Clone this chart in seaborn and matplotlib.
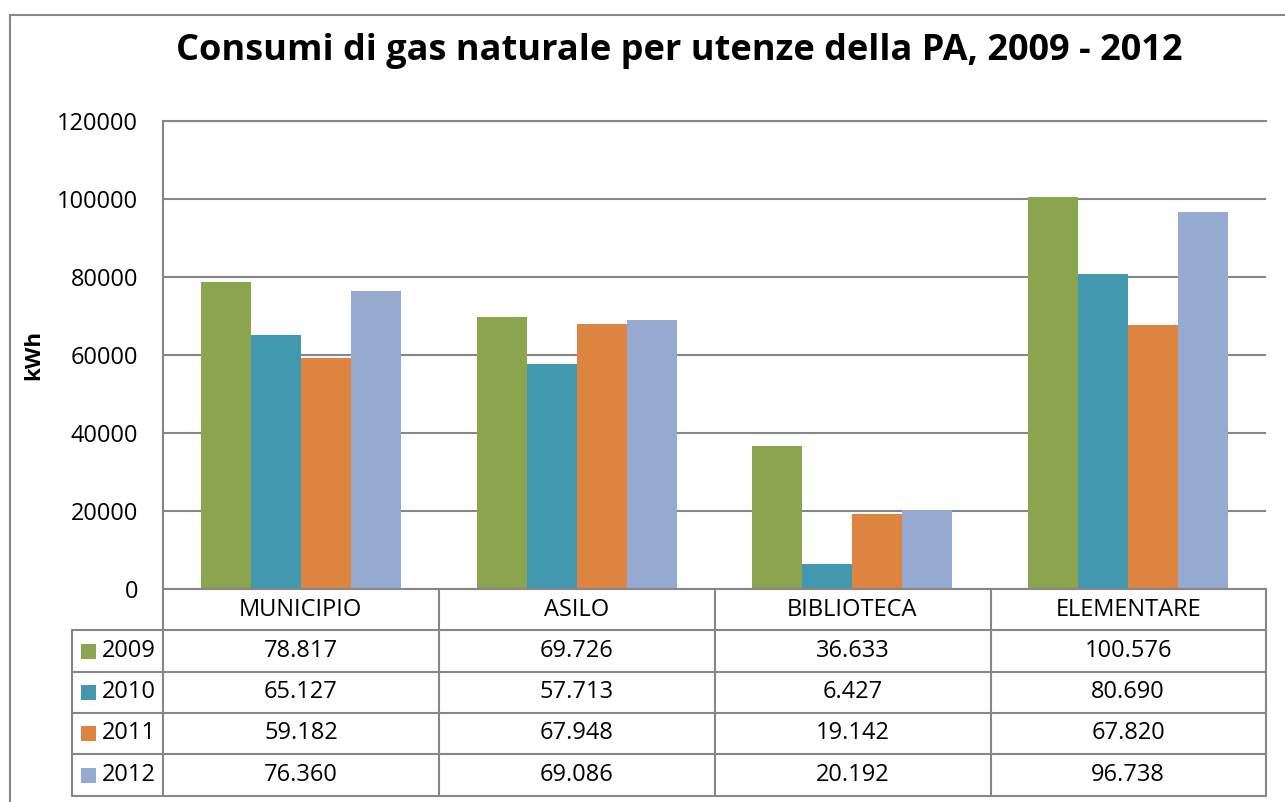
import numpy as np
import pandas as pd
import matplotlib
matplotlib.use("Agg")
import matplotlib.pyplot as plt
import matplotlib.transforms as mtransforms
from matplotlib.lines import Line2D
from matplotlib.patches import Rectangle
import seaborn as sns

categories = ["MUNICIPIO", "ASILO", "BIBLIOTECA", "ELEMENTARE"]
years = ["2009", "2010", "2011", "2012"]
v2009 = [78817, 69726, 36633, 100576]
v2010 = [65127, 57713, 6427, 80690]
v2011 = [59182, 67948, 19142, 67820]
v2012 = [76360, 69086, 20192, 96738]
colors = ["#8AA54D", "#4198AF", "#DD8440", "#95A9D1"]
yticks = [0, 20000, 40000, 60000, 80000, 100000, 120000]
title = "Consumi di gas naturale per utenze della PA, 2009 - 2012"
ylabel = "kWh"

series = {"2009": v2009, "2010": v2010, "2011": v2011, "2012": v2012}
rows = []
for y in years:
    for c, v in zip(categories, series[y]):
        rows.append({"cat": c, "year": y, "val": v})
df = pd.DataFrame(rows)

sns.set_theme(style="white")
plt.rcParams['font.family'] = ['Open Sans', 'DejaVu Sans']
plt.rcParams['text.color'] = 'black'

W, H = 1285, 802
fig = plt.figure(figsize=(12.85, 8.02), dpi=100)
fig.patch.set_facecolor("white")

def fx(px):
    return px / W

def fy(py):
    return 1 - py / H

L, R, T, B = 163, 1266, 121, 589
ax = fig.add_axes([fx(L), fy(B), fx(R) - fx(L), fy(T) - fy(B)])
sns.barplot(data=df, x="cat", y="val", hue="year", order=categories,
            hue_order=years, palette=colors, width=0.725, linewidth=0,
            saturation=1, ax=ax, legend=False, errorbar=None)
ax.set_xlim(-0.5, 3.5)
ax.set_ylim(0, 120000)
ax.set_yticks(yticks)
ax.set_yticklabels([str(t) for t in yticks])
ax.yaxis.grid(True, color="#868686", lw=1.5)
ax.set_axisbelow(True)
ax.set_xticks([])
ax.set_xlabel("")
ax.spines["right"].set_visible(False)
for s in ["left", "top", "bottom"]:
    ax.spines[s].set_color("#868686")
    ax.spines[s].set_linewidth(1.5)
fs = 17
ax.tick_params(axis="y", length=0, pad=18, labelsize=fs, labelcolor="black")
ax.set_ylabel(ylabel, fontsize=16, fontweight="bold", color="black")
ax.yaxis.set_label_coords((44 - L) / (R - L), 0.5)

gc = "#868686"
lw = 1.5
# outer chart frame
fig.add_artist(Line2D([fx(10), fx(10)], [fy(15), fy(802)], color=gc, lw=lw))
fig.add_artist(Line2D([fx(10), fx(1285)], [fy(15), fy(15)], color=gc, lw=lw))

# table lines
row_edges = [630, 672, 713, 754, 796]
col_edges = [163, 439, 715, 991, 1266]
for ry in row_edges:
    fig.add_artist(Line2D([fx(72), fx(R)], [fy(ry), fy(ry)], color=gc, lw=lw))
for cx in col_edges:
    fig.add_artist(Line2D([fx(cx), fx(cx)], [fy(B), fy(796)], color=gc, lw=lw))
fig.add_artist(Line2D([fx(72), fx(72)], [fy(630), fy(796)], color=gc, lw=lw))

trans = mtransforms.blended_transform_factory(ax.transData, fig.transFigure)
for i, c in enumerate(categories):
    fig.text(i, fy(610), c, transform=trans, ha="center", va="center",
             fontsize=fs, color="black")
row_centers = [651, 692, 733, 775]
for r, y in enumerate(years):
    fig.add_artist(Rectangle((fx(81), fy(row_centers[r] + 7.5)), fx(15), 15 / H,
                             facecolor=colors[r], edgecolor="none"))
    fig.text(fx(102), fy(row_centers[r]), y, ha="left", va="center", fontsize=fs,
             color="black")
    for i, v in enumerate(series[y]):
        fig.text(i, fy(row_centers[r]), f"{v:,}".replace(",", "."), transform=trans,
                 ha="center", va="center", fontsize=fs, color="black")

fig.text(fx(679), fy(51), title, ha="center", va="center", fontsize=26,
         fontweight="bold", color="black")

fig.savefig("out.png", dpi=100)
